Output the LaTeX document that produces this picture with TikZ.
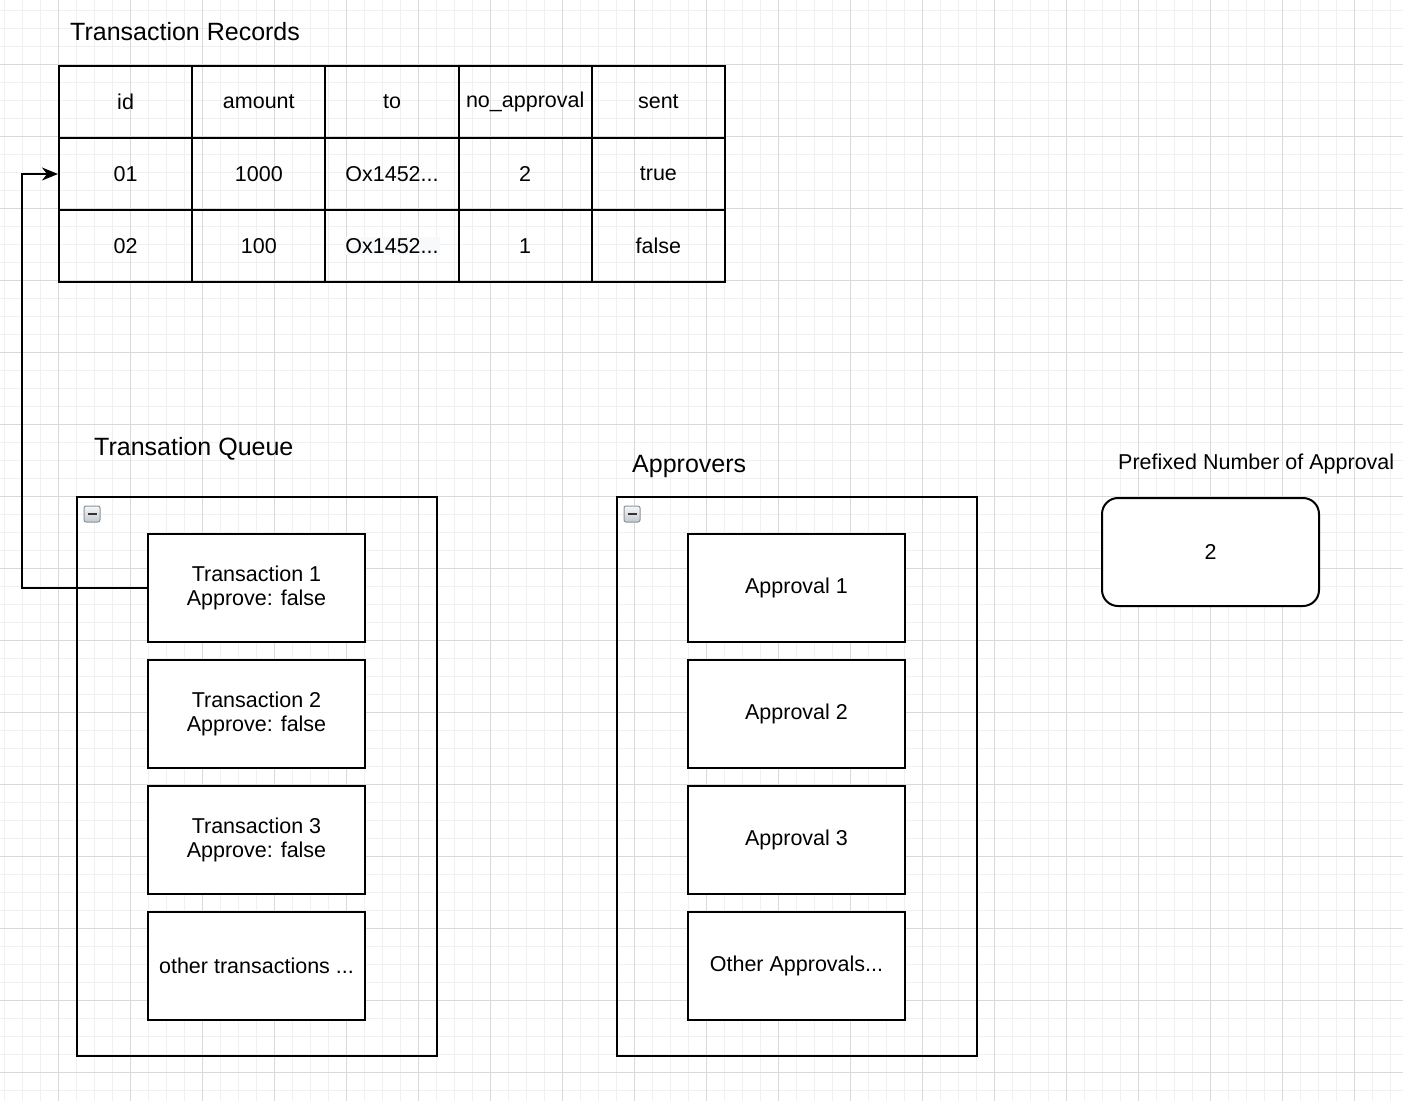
\documentclass[tikz,border=0pt]{standalone}
\usepackage{fontspec}
\setmainfont{Liberation Sans}
\usetikzlibrary{arrows.meta,calc}
\definecolor{gridmajor}{HTML}{D9D9D9}
\definecolor{gridminor}{HTML}{F0F0F0}
\definecolor{iconborder}{HTML}{8A94A0}
\definecolor{icontop}{HTML}{F6F7F8}
\definecolor{iconbot}{HTML}{C4C8CE}
\definecolor{hl}{HTML}{F8F9FA}
\newcommand{\txtbig}{\fontsize{25}{30}\selectfont}
\newcommand{\txtmid}{\fontsize{21.5}{24.5}\selectfont}
\tikzset{
  cell/.style={draw=black, line width=2pt, minimum width=133.2pt, minimum height=72pt, inner sep=0pt, font=\txtmid},
  container/.style={draw=black, line width=2pt, inner sep=0pt},
  itembox/.style={draw=black, line width=2pt, fill=white, minimum width=217pt, minimum height=108pt, inner sep=0pt, align=center, font=\txtmid},
  title/.style={inner sep=0pt, anchor=base west, font=\txtbig},
  smalltitle/.style={inner sep=0pt, anchor=base west, font=\txtmid},
  connector/.style={draw=black, line width=2pt, -{Stealth[length=16pt, width=13pt, inset=5pt]}},
}
\begin{document}
\begin{tikzpicture}[x=1pt, y=-1pt]
\useasboundingbox (0,0) rectangle (1403,1101);
\fill[white] (0,0) rectangle (1403,1101);
% grid
\foreach \i in {0,...,78} {
  \draw[gridminor, line width=1pt] ({4.3+18*\i},0) -- ({4.3+18*\i},1101);
}
\foreach \i in {0,...,61} {
  \draw[gridminor, line width=1pt] (0,{10+18*\i}) -- (1403,{10+18*\i});
}
\foreach \i in {-1,...,19} {
  \draw[gridmajor, line width=1pt] ({58.3+72*\i},0) -- ({58.3+72*\i},1101);
}
\foreach \i in {-1,...,15} {
  \draw[gridmajor, line width=1pt] (0,{64+72*\i}) -- (1403,{64+72*\i});
}

% Transaction records title
\node[title] (trtitle) at (70,40) {Transaction Records};

% table: header row
\node[cell] (r0c0) at ({59+133.2*0.5},102) {id};
\node[cell] (r0c1) at ({59+133.2*1.5},102) {amount};
\node[cell] (r0c2) at ({59+133.2*2.5},102) {to};
\node[cell] (r0c3) at ({59+133.2*3.5},102) {no\_approval};
\node[cell] (r0c4) at ({59+133.2*4.5},102) {sent};
% row 1
\node[cell] (r1c0) at ({59+133.2*0.5},174) {01};
\node[cell] (r1c1) at ({59+133.2*1.5},174) {1000};
\node[cell] (r1c2) at ({59+133.2*2.5},174) {Ox1452...};
\node[cell] (r1c3) at ({59+133.2*3.5},174) {2};
\node[cell] (r1c4) at ({59+133.2*4.5},174) {true};
% row 2
\node[cell] (r2c0) at ({59+133.2*0.5},246) {02};
\node[cell] (r2c1) at ({59+133.2*1.5},246) {100};
\node[cell] (r2c2) at ({59+133.2*2.5},246) {};
\node[cell] (r2c3) at ({59+133.2*3.5},246) {1};
\node[cell] (r2c4) at ({59+133.2*4.5},246) {false};
\node[fill=hl, inner sep=1pt, font=\txtmid] (hltext) at (r2c2.center) {Ox1452...};

% Queue
\node[title] (qtitle) at (94,455) {Transation Queue};
\node[container, minimum width=360pt, minimum height=559pt] (queue) at (257,776.5) {};
\shade[top color=icontop, bottom color=iconbot, draw=iconborder, line width=1pt, rounded corners=2pt] (84,506) rectangle (100,522);
\draw[black!80, line width=2.5pt] (87.5,514) -- (96.5,514);
\node[itembox] (t1) at (256.5,588) {Transaction 1\\Approve: false};
\node[itembox] (t2) at (256.5,714) {Transaction 2\\Approve: false};
\node[itembox] (t3) at (256.5,840) {Transaction 3\\Approve: false};
\node[itembox] (t4) at (256.5,966) {other transactions ...};

% Approvers
\node[title] (atitle) at (632,472) {Approvers};
\node[container, minimum width=360pt, minimum height=559pt] (approvers) at (797,776.5) {};
\shade[top color=icontop, bottom color=iconbot, draw=iconborder, line width=1pt, rounded corners=2pt] (624,506) rectangle (640,522);
\draw[black!80, line width=2.5pt] (627.5,514) -- (636.5,514);
\node[itembox] (a1) at (796.5,588) {Approval 1};
\node[itembox] (a2) at (796.5,714) {Approval 2};
\node[itembox] (a3) at (796.5,840) {Approval 3};
\node[itembox] (a4) at (796.5,966) {Other Approvals...};

% Prefixed number
\node[smalltitle] (ptitle) at (1118,469) {Prefixed Number of Approval};
\node[itembox, rounded corners=16pt] (pnum) at (1210.5,552) {2};

% connector
\coordinate (bend) at (22,588);
\draw[connector] (t1.west) -- (bend) |- (r1c0.west);
\end{tikzpicture}
\end{document}
